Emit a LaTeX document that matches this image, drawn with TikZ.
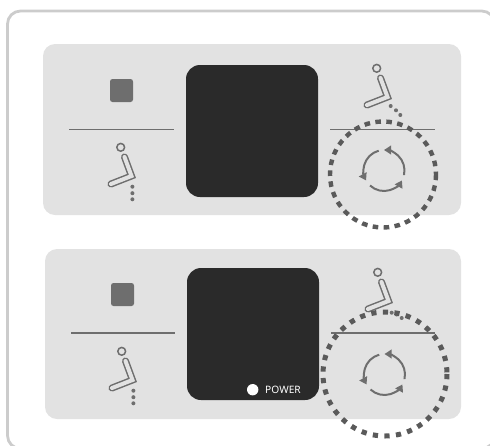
\documentclass[tikz,border=0pt]{standalone}
\usepackage{fontspec}
\setmainfont{Noto Sans}
\usetikzlibrary{arrows.meta}
\definecolor{frameC}{HTML}{CCCCCC}
\definecolor{panelC}{HTML}{E2E2E2}
\definecolor{screenC}{HTML}{2A2A2A}
\definecolor{markC}{HTML}{6E6E6E}
\definecolor{ringC}{HTML}{5A5A5A}
\tikzset{
  x=1pt,y=-1pt,
  frame/.style={draw=frameC,line width=2.8pt,rounded corners=13pt},
  panel/.style={fill=panelC,rounded corners=12pt},
  screen/.style={fill=screenC,rounded corners=14pt},
  sqmark/.style={fill=markC,rounded corners=2.5pt},
  rule/.style={draw=markC,line width=1.5pt},
  ring/.style={draw=ringC,line width=4.4pt},
  cyc/.style={draw=markC,line width=2pt,-{Triangle[length=7pt,width=8.5pt]}},
}
\newcommand{\seat}[2]{%
  \begin{scope}[shift={(#1,#2)}]
    \draw[markC,line width=1.5pt] (120.7,147.3) circle[radius=3.9];
    \draw[markC,line width=7pt,line cap=round,line join=miter] (124.5,157) -- (131.5,176) -- (111,184);
    \draw[panelC,line width=4pt,line cap=round,line join=miter] (124.5,157) -- (131.5,176) -- (111,184);
  \end{scope}}
\newcommand{\cycle}[2]{%
  \draw[cyc] (#1,#2) ++(105:20.5 and -20.5) arc[start angle=-105,end angle=-209,radius=20.5];
  \draw[cyc] (#1,#2) ++(227:20.5 and -20.5) arc[start angle=-227,end angle=-331,radius=20.5];
  \draw[cyc] (#1,#2) ++(347:20.5 and -20.5) arc[start angle=-347,end angle=-450,radius=20.5];}
\begin{document}
\begin{tikzpicture}
\useasboundingbox (0,0) rectangle (490,445);
\begin{scope}
\clip (0,0) rectangle (490,445);
\draw[frame] (7.5,448.6) -- (7.5,11) -- (494.7,11) -- (494.7,448.6) -- cycle;
\end{scope}
% top panel
\fill[panel] (43,44) rectangle (461,215);
\fill[screen] (186,65) rectangle (318,197);
\fill[sqmark] (110,79) rectangle (133,102);
\draw[rule] (69,129.5) -- (174,129.5);
\seat{0}{0}
\foreach \y in {186.7,193.2,199.3} \fill[markC] (132.4,\y) circle[radius=2];
\draw[rule] (330,129.5) -- (435,129.5);
\seat{256}{-79}
\foreach \x/\y in {390.7/106,396/110.3,400.3/115} \fill[markC] (\x,\y) circle[radius=2];
\cycle{384}{170.5}
\draw[ring,dash pattern=on 5.6pt off 5.4pt] (383,174.5) circle[radius=53];
% bottom panel
\fill[panel] (45,249) rectangle (461,419);
\fill[screen] (187,268) rectangle (319,400);
\fill[sqmark] (111,283) rectangle (134,306);
\draw[rule] (71,333) -- (175,333);
\seat{1}{204}
\foreach \y in {390.7,397.2,403.3} \fill[markC] (133.4,\y) circle[radius=2];
\draw[rule] (331,333) -- (435,333);
\seat{257}{125}
\foreach \x/\y in {391.7/312.7,396.7/314.5,401.7/318} \fill[markC] (\x,\y) circle[radius=2];
\cycle{384.5}{374.5}
\draw[ring,line width=5pt,dash pattern=on 5.2pt off 6.4pt] (385,374) circle[radius=62];
\fill[white] (252.7,389.7) circle[radius=5.7];
\node[text=white,inner sep=0pt,font=\fontsize{10.2pt}{12pt}\selectfont] (pw) at (283,389.7) {POWER};
\end{tikzpicture}
\end{document}
